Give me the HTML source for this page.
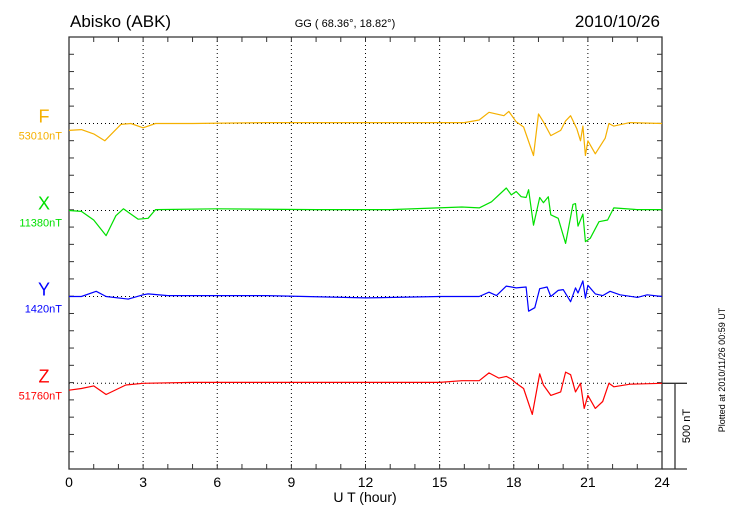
<!DOCTYPE html>
<html><head><meta charset="utf-8"><style>
body{margin:0;background:#fff;}
svg{display:block;font-family:"Liberation Sans",sans-serif;}
</style></head><body>
<svg id="c" width="730" height="520" viewBox="0 0 730 520">
<text x="70" y="27" font-size="17">Abisko (ABK)</text>
<text x="345" y="27" font-size="11" text-anchor="middle">GG ( 68.36°,  18.82°)</text>
<text x="660" y="27" font-size="17" text-anchor="end">2010/10/26</text>
<text x="365" y="502" font-size="14" text-anchor="middle">U T (hour)</text>
<text transform="translate(690,426) rotate(-90)" font-size="11" text-anchor="middle">500 nT</text>
<text transform="translate(725,370) rotate(-90)" font-size="9" text-anchor="middle">Plotted at 2010/11/26 00:59 UT</text>
<g id="grid"></g><g id="axes"></g><g id="series"></g>
</svg>
<script>
const hourTicks=[0,3,6,9,12,15,18,21,24];
const compNames=["F","X","Y","Z"];
const baseValues=["53010nT","11380nT","1420nT","51760nT"];
const compColors=["#f5b000","#00e000","#0000ff","#ff0000"];
const fT=[0,0.5,1,1.45,2.1,2.5,3,3.5,5,8,10,13,16,16.6,17,17.6,17.8,18.1,18.4,18.8,19,19.2,19.5,19.9,20.1,20.3,20.55,20.7,20.8,20.9,21,21.3,21.7,21.85,22.05,22.7,24];
const fV=[-40,-35,-60,-100,-5,0,-25,0,0,5,5,5,5,20,65,45,70,10,-20,-185,55,10,-70,-40,15,45,-30,-100,-15,-185,-100,-175,-85,0,-15,5,0];
const xT=[0,0.5,1,1.5,1.9,2.2,2.8,3.2,3.5,6,10,13,15.9,16.6,17.1,17.7,17.9,18.1,18.3,18.5,18.6,18.8,19.05,19.2,19.4,19.5,19.8,20.1,20.4,20.5,20.6,20.8,20.9,21.1,21.45,21.8,22.05,23,24];
const xV=[0,-5,-55,-145,-30,10,-50,-45,5,10,5,5,20,15,50,130,90,110,80,75,120,-85,75,45,80,-25,-45,-190,35,40,-90,-20,-180,-160,-65,-55,15,5,5];
const yT=[0,0.5,1.1,1.5,2.4,3,3.2,4,8,12,15,15.9,16.6,17,17.3,17.7,18.1,18.5,18.6,18.85,19.05,19.35,19.5,19.8,20,20.3,20.5,20.6,20.8,20.9,21,21.3,21.6,21.9,22.3,23,23.4,24];
const yV=[0,0,30,0,-15,10,15,5,5,-8,0,0,0,25,5,60,50,55,-85,-65,45,55,0,35,40,-30,50,20,90,-10,65,15,5,30,10,-5,10,0];
const zT=[0,0.5,1,1.5,2.3,3,5,10,15,15.9,16.6,17,17.4,17.7,17.9,18.1,18.4,18.75,19.05,19.2,19.5,19.9,20.1,20.3,20.5,20.7,20.85,21,21.3,21.6,21.85,22.05,22.7,24];
const zV=[-40,-30,-15,-65,-10,0,5,5,5,15,15,60,30,40,25,0,-30,-180,55,-10,-70,-50,65,50,-50,0,-145,-70,-145,-105,0,-20,-5,0];
const seriesT=[fT,xT,yT,zT], seriesV=[fV,xV,yV,zV];
const L=69,R=662,T=37,B=469;
const baseY=[123.5,210.5,296.5,383.3];
const pxPerNT=0.173;
function xs(h){return L+(R-L)*h/24;}
function ys(i,v){return baseY[i]-v*pxPerNT;}
const NS="http://www.w3.org/2000/svg";
function mk(tag,parent,attrs){const e=document.createElementNS(NS,tag);for(const k in attrs)e.setAttribute(k,attrs[k]);parent.appendChild(e);return e;}
const grid=document.getElementById('grid'),axes=document.getElementById('axes'),ser=document.getElementById('series');
hourTicks.forEach(h=>{if(h>0&&h<24){const g=mk('line',grid,{x1:xs(h),x2:xs(h),y1:T,y2:B,stroke:'#000','stroke-width':1,'stroke-dasharray':'1,3'});

}
const t=mk('text',axes,{x:xs(h),y:487,'font-size':14,'text-anchor':'middle'});t.textContent=h;

});
baseY.forEach((y,i)=>{const g=mk('line',grid,{x1:L,x2:R,y1:y,y2:y,stroke:'#000','stroke-width':1,'stroke-dasharray':'1,3'});

});
const frame=mk('path',axes,{d:`M${L},${T}H${R}V${B}H${L}Z`,fill:'none',stroke:'#333','stroke-width':1.3});


for(let h=0;h<=24;h++){mk('line',axes,{x1:xs(h),x2:xs(h),y1:B,y2:B-5,stroke:'#333'});mk('line',axes,{x1:xs(h),x2:xs(h),y1:T,y2:T+5,stroke:'#333'});}
for(let y=T;y<=B+1;y+=17.28){mk('line',axes,{x1:L,x2:L+5,y1:y,y2:y,stroke:'#333'});mk('line',axes,{x1:R,x2:R-5,y1:y,y2:y,stroke:'#333'});}
const sb=mk('path',axes,{d:`M${R},383.3H687M675,383.3V${B}M${R},${B}H687`,fill:'none',stroke:'#333','stroke-width':1.3});


compNames.forEach((n,i)=>{
const a=mk('text',axes,{x:44,y:baseY[i]-1,'font-size':18,'text-anchor':'middle',fill:compColors[i]});a.textContent=n;


const b=mk('text',axes,{x:62,y:baseY[i]+16,'font-size':11,'text-anchor':'end',fill:compColors[i]});b.textContent=baseValues[i];


const d=seriesT[i].map((t,k)=>(k?'L':'M')+xs(t).toFixed(1)+','+ys(i,seriesV[i][k]).toFixed(1)).join('');
const p=mk('path',ser,{d:d,fill:'none',stroke:compColors[i],'stroke-width':1.2,'stroke-linejoin':'round'});


});
</script>
</body></html>
